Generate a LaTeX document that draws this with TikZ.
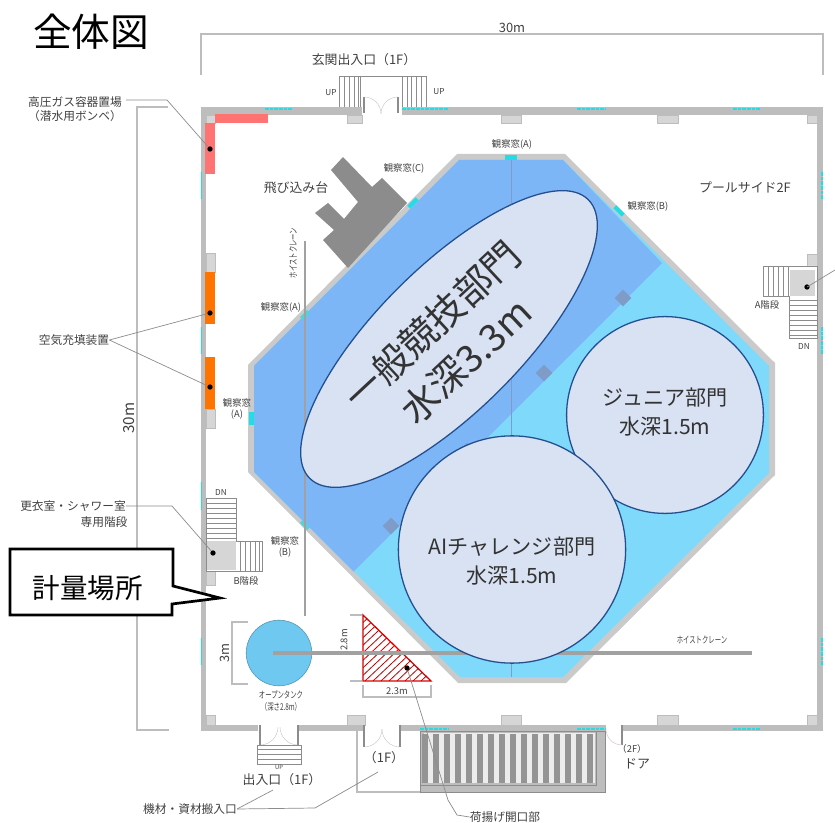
\documentclass[tikz,border=0pt]{standalone}
\usepackage{fontspec}
\newfontfamily\jpfont{Noto Sans CJK JP}
\newcommand{\narrowtext}[1]{\scalebox{0.68}[1]{#1}}
\definecolor{wallgray}{HTML}{BDBDBD}
\definecolor{blockgray}{HTML}{D6D6D6}
\definecolor{deepblue}{HTML}{7DB6F6}
\definecolor{shallowblue}{HTML}{7FD9FB}
\definecolor{tankblue}{HTML}{6FC8EF}
\definecolor{circlefill}{HTML}{D9E2F3}
\definecolor{circleedge}{HTML}{234F8E}
\definecolor{pillarblue}{HTML}{7F9CC8}
\definecolor{leadergray}{HTML}{8C8C8C}
\definecolor{labelgray}{HTML}{404040}
\definecolor{glasscyan}{HTML}{22DDE6}
\tikzset{
	wall/.style={fill=wallgray, draw=none},
	block/.style={fill=blockgray, draw=wallgray, line width=0.4pt},
	glass/.style={draw=glasscyan, line width=1.6pt, dash pattern=on 3pt off 1pt},
	leader/.style={draw=leadergray, line width=0.6pt},
	dim/.style={draw=wallgray, line width=0.9pt},
	crane/.style={draw=wallgray!85!black, line cap=butt},
	tread/.style={draw=leadergray, line width=0.3pt},
	doorarc/.style={draw=wallgray, line width=0.3pt},
	dot/.style={circle, fill=black, inner sep=0pt, minimum size=4.5pt},
	lab/.style={font=\jpfont\fontsize{10}{12}\selectfont, text=labelgray, inner sep=0pt, align=center},
	labbig/.style={font=\jpfont\fontsize{11}{13}\selectfont, text=labelgray, inner sep=0pt, align=center},
	labsmall/.style={font=\jpfont\fontsize{8}{10}\selectfont, text=labelgray, inner sep=0pt, align=center},
	labtiny/.style={font=\jpfont\fontsize{7}{8.5}\selectfont, text=labelgray, inner sep=0pt, align=center},
	zone/.style={font=\jpfont\fontsize{18}{25}\selectfont, text=black!80, inner sep=0pt, align=center},
}
\begin{document}
\begin{tikzpicture}[x=0.03cm, y=-0.03cm]
	\useasboundingbox (0,0) rectangle (835,823);
	% 見出し
	\node[font=\jpfont\fontsize{33}{36}\selectfont, inner sep=0pt] (title) at (91,32) {全体図};
	% 寸法線
	\draw[dim] (201,75) -- (201,34) -- (823,34) -- (823,75);
	\node[labbig] (widthText) at (512,28) {30m};
	\draw[dim] (168,107) -- (137,107) -- (137,730) -- (169,730);
	\node[font=\jpfont\fontsize{13}{15}\selectfont, text=labelgray, inner sep=0pt, rotate=90] (depthText) at (129,418) {30m};
	% 外壁
	\fill[wall] (201,107) rectangle (362,115);
	\fill[wall] (402,107) rectangle (823,115);
	\fill[wall] (201,107) rectangle (206,731);
	\fill[wall] (817,107) rectangle (823,731);
	\fill[wall] (201,725) rectangle (258,731);
	\fill[wall] (298,725) rectangle (365,731);
	\fill[wall] (400,725) rectangle (606,731);
	\fill[wall] (622,725) rectangle (823,731);
	% 柱
	\foreach \xa/\xb in {347/362, 501/521, 657/678, 807/817}
	\draw[block] (\xa,115) rectangle (\xb,123);
	\foreach \xa/\xb in {206/215, 347/365, 501/521, 657/678, 807/817}
	\draw[block] (\xa,715) rectangle (\xb,725);
	\draw[block] (206,115) rectangle (215,123);
	\draw[block] (206,253) rectangle (215,272);
	\draw[block] (206,409) rectangle (215,428);
	\draw[block] (206,571) rectangle (215,585);
	\draw[block] (807,254) rectangle (817,270);
	% 窓
	\foreach \xa/\xb in {265/293, 402/448, 577/606, 733/761}
	\draw[glass] (\xa,109) -- (\xb,109);
	\foreach \xa/\xb in {420/449, 577/606, 733/760}
	\draw[glass] (\xa,729) -- (\xb,729);
	\foreach \ya/\yb in {172/199, 327/354, 638/666}
	\draw[glass] (822,\ya) -- (822,\yb);
	\foreach \ya/\yb in {172/199, 327/354, 482/510, 638/665}
	\draw[glasscyan, line width=0.6pt] (201,\ya) -- (201,\yb);
	% 設備
	\fill[red!55!white] (215,114) rectangle (268,123);
	\fill[red!55!white] (205,123) rectangle (215,174);
	\fill[orange!90!red] (205,272) rectangle (215,324);
	\fill[orange!90!red] (205,357) rectangle (215,409);
	% プール
	\fill[wallgray!80!white] (457,154) -- (565,154) -- (775,363) -- (775,475) -- (566,683) -- (458,683) -- (248,472) -- (248,365) -- cycle;
	\fill[shallowblue] (459,160) -- (563,160) -- (769,366) -- (769,473) -- (563,677) -- (460,677) -- (254,472) -- (254,366) -- cycle;
	\fill[deepblue] (459,160) -- (563,160) -- (662,263) -- (353.5,571.5) -- (254,472) -- (254,366) -- cycle;
	\draw[pillarblue, line width=0.3pt] (511,160) -- (511,677);
	\foreach \x/\y in {623/298, 544/373, 467/451, 391/526}
	\fill[pillarblue, rotate around={45:(\x,\y)}] (\x-6,\y-6) rectangle (\x+6,\y+6);
	% 飛び込み台
	\fill[black!45] (343,157) -- (372,187) -- (382,178) -- (407,203) -- (348,268) -- (323,240) -- (334,230) -- (315,213) -- (328,203) -- (344,219) -- (358,202) -- (331,170) -- cycle;
	% 観察窓
	\fill[glasscyan] (505,155) rectangle (517,160);
	\fill[glasscyan] (249,412) rectangle (254,425);
	\fill[glasscyan, rotate around={45:(413,203)}] (407,201) rectangle (419,205);
	\fill[glasscyan, rotate around={-45:(619,211)}] (613,209) rectangle (625,213);
	\fill[glasscyan!70!wallgray, rotate around={45:(305,315)}] (300,313) rectangle (310,317);
	\fill[glasscyan!70!wallgray, rotate around={-45:(305,525)}] (300,523) rectangle (310,527);
	% オープンタンク
	\node[circle, fill=tankblue, draw=tankblue!75!black, line width=0.5pt, minimum size=56pt, inner sep=0pt] (tank) at (279,653) {};
	\draw[dim] (248,622) -- (232,622) -- (232,684) -- (248,684);
	\node[labbig, rotate=90] (tankSize) at (225,653) {3m};
	\node[font=\jpfont\fontsize{8}{9.5}\selectfont, text=labelgray, inner sep=0pt, align=center] (tankText) at (281,701) {\narrowtext{オープンタンク}\\\narrowtext{（深さ2.8m）}};
	% 開口部
	\begin{scope}
		\clip (363,615) -- (363,681) -- (431,681) -- cycle;
		\foreach \d in {0,8,...,136}
		\draw[red!80!black, line width=0.7pt] (363+\d-70,681) -- (363+\d,615);
	\end{scope}
	\draw[red!85!black, line width=1.1pt] (363,615) -- (363,681) -- (431,681) -- cycle;
	\draw[dim] (350,615) -- (362,615);
	\draw[dim] (350,681) -- (362,681);
	\draw[dim] (363,685) -- (363,697) -- (431,697) -- (431,685);
	\node[labsmall] (openWidth) at (397,691) {2.3m};
	\node[labsmall, rotate=90] (openDepth) at (344,640) {2.8m};
	% ホイストクレーン
	\draw[crane, line width=2.4pt] (305,241) -- (305,616);
	\draw[crane, line width=3.2pt] (273,653) -- (752,653);
	\node[font=\jpfont\fontsize{8}{9.5}\selectfont, text=labelgray, inner sep=0pt, rotate=90] (craneTextA) at (293,253) {\narrowtext{ホイストクレーン}};
	\node[font=\jpfont\fontsize{8}{9.5}\selectfont, text=labelgray, inner sep=0pt] (craneTextB) at (702,640) {\narrowtext{ホイストクレーン}};
	% 部門
	\draw[fill=circlefill, draw=circleedge, line width=1.1pt, rotate around={45:(449,339)}] (449,339) ellipse (197 and 72);
	\node[circle, fill=circlefill, draw=circleedge, line width=1.1pt, minimum size=168pt, inner sep=0pt] (juniorPool) at (665,415) {};
	\node[circle, fill=circlefill, draw=circleedge, line width=1.1pt, minimum size=194pt, inner sep=0pt] (aiPool) at (512,549.5) {};
	\node[font=\jpfont\fontsize{32}{42}\selectfont, text=black!80, inner sep=0pt, align=center, rotate=43] (deepText) at (449,343) {一般競技部門\\水深3.3m};
	\node[zone] (juniorText) at (665,412) {ジュニア部門\\水深1.5m};
	\node[zone] (aiText) at (512,561) {AIチャレンジ部門\\水深1.5m};
	% 玄関
	\draw[tread] (339,107) -- (339,76) -- (426,76) -- (426,107);
	\draw[tread] (360,76) -- (360,107);
	\draw[tread] (402,76) -- (402,107);
	\foreach \x in {344,349,354,358,407,411,416,421}
	\draw[tread] (\x,76) -- (\x,107);
	\draw[leadergray, line width=1pt] (364,97) -- (364,113);
	\draw[leadergray, line width=1pt] (398,97) -- (398,113);
	\draw[doorarc] (364,97) arc[start angle=270, end angle=360, radius=17];
	\draw[doorarc] (398,97) arc[start angle=270, end angle=180, radius=17];
	\node[labbig] (frontText) at (364,60) {玄関出入口（1F）};
	\node[labtiny] (upLeft) at (331,93) {UP};
	\node[labtiny] (upRight) at (439,92) {UP};
	% A階段
	\draw[fill=white, draw=leadergray, line width=0.5pt] (763,266) -- (817,266) -- (817,338) -- (789,338) -- (789,296) -- (763,296) -- cycle;
	\fill[blockgray] (790,270) rectangle (815,296);
	\foreach \x in {768,773,778,783,788}
	\draw[tread] (\x,266) -- (\x,296);
	\foreach \y in {300,305,310,315,320,325,330,335}
	\draw[tread] (789,\y) -- (817,\y);
	\node[labsmall] (stairA) at (767,305) {A階段};
	\node[labtiny] (dnA) at (804,346) {DN};
	\coordinate (stairADot) at (807,287);
	\coordinate (stairAEnd) at (835,270);
	\node[dot] at (stairADot) {};
	\draw[leader] (stairADot) -- (stairAEnd);
	% B階段
	\draw[fill=white, draw=leadergray, line width=0.5pt] (206,498) -- (236,498) -- (236,541) -- (262,541) -- (262,571) -- (206,571) -- cycle;
	\fill[blockgray] (207,541) rectangle (236,570);
	\foreach \y in {503,508,513,518,523,528,533,538}
	\draw[tread] (206,\y) -- (236,\y);
	\foreach \x in {240,245,250,255,259}
	\draw[tread] (\x,541) -- (\x,571);
	\node[labsmall] (stairB) at (246,581) {B階段};
	\node[labtiny] (dnB) at (221,492) {DN};
	% 出入口
	\draw[leadergray, line width=1pt] (260,725) -- (260,745);
	\draw[leadergray, line width=1pt] (298,725) -- (298,745);
	\draw[doorarc] (260,745) arc[start angle=90, end angle=0, radius=18];
	\draw[doorarc] (298,745) arc[start angle=90, end angle=180, radius=18];
	\draw[tread] (257,745) rectangle (301,764);
	\foreach \y in {749,754,759}
	\draw[tread] (257,\y) -- (301,\y);
	\node[font=\jpfont\fontsize{5}{6}\selectfont, text=labelgray, inner sep=0pt] (upBottom) at (279,767) {UP};
	\node[labbig] (doorText) at (282,780) {出入口（1F）};
	% 搬入口
	\draw[dim] (357,731) -- (357,792) -- (420,792);
	\draw[leadergray, line width=1pt] (364,725) -- (364,747);
	\draw[leadergray, line width=1pt] (400,725) -- (400,747);
	\draw[doorarc] (364,747) arc[start angle=90, end angle=0, radius=18];
	\draw[doorarc] (400,747) arc[start angle=90, end angle=180, radius=18];
	\node[labbig] (gateText) at (384,758) {（1F）};
	% 荷揚げ部
	\fill[wallgray] (420,731) rectangle (605,792);
	\fill[white!85!gray] (424,733) rectangle (595,783);
	\foreach \x in {422,433,...,590}
	\fill[black!42] (\x,734) rectangle (\x+6,783);
	\draw[leadergray, line width=0.5pt] (420,731) rectangle (605,792);
	\draw[leadergray, line width=0.5pt] (420,785) -- (596,785) -- (596,731);
	% ドア
	\draw[leadergray, line width=1pt] (622,725) -- (622,745);
	\draw[red!20!gray!40!white, line width=0.4pt] (622,745) arc[start angle=90, end angle=180, radius=16];
	\node[labsmall] (doorFloor) at (632,749) {（2F）};
	\node[labbig] (doorName) at (637,764) {ドア};
	% 引出し線
	\node[lab] (gasText) at (75,109) {高圧ガス容器置場\\（潜水用ボンベ）};
	\coordinate (gasBend) at (167,100);
	\coordinate (gasDot) at (210,149);
	\draw[leader] (126,100) -- (gasBend) -- (gasDot);
	\node[dot] at (gasDot) {};
	\node[lab] (airText) at (74,340) {空気充填装置};
	\coordinate (airDotA) at (210,313);
	\coordinate (airDotB) at (210,387);
	\draw[leader] (airText.east) -- (airDotA);
	\draw[leader] (airText.east) -- (airDotB);
	\node[dot] at (airDotA) {};
	\node[dot] at (airDotB) {};
	\node[lab] (showerText) at (73,506) {更衣室・シャワー室};
	\node[lab] (showerTextB) at (104,522) {専用階段};
	\coordinate (showerBend) at (172,506);
	\coordinate (showerDot) at (213,553);
	\draw[leader] (showerText.east) -- (showerBend) -- (showerDot);
	\node[dot] at (showerDot) {};
	\node[lab] (materialText) at (190,809) {機材・資材搬入口};
	\coordinate (materialEndA) at (273,790);
	\coordinate (materialBend) at (315,808);
	\coordinate (materialEndB) at (378,772);
	\draw[leader] (materialText.east) -- (materialEndA);
	\draw[leader] (materialText.east) -- (materialBend) -- (materialEndB);
	\node[lab] (liftText) at (505,817) {荷揚げ開口部};
	\coordinate (liftDot) at (407,668);
	\coordinate (liftBend) at (448,800);
	\draw[leader] (liftDot) -- (liftBend) -- (457,815) -- (liftText.west);
	\node[dot] at (liftDot) {};
	% 観察窓ラベル
	\node[labsmall] (winTop) at (512,144) {観察窓(A)};
	\node[labsmall] (winC) at (404,168) {観察窓(C)};
	\node[labsmall] (winBRight) at (648,206) {観察窓(B)};
	\node[labsmall] (winALeft) at (281,307) {観察窓(A)};
	\node[labsmall] (winASide) at (237,409) {観察窓\\(A)};
	\node[labsmall] (winBLeft) at (285,547) {観察窓\\(B)};
	\node[labbig] (platformText) at (296,188) {飛び込み台};
	\node[labbig] (sideText) at (745,187) {プールサイド2F};
	% 吹き出し
	\draw[fill=white, draw=black, line width=2.3pt] (10,549) -- (173,549) -- (173,586) -- (220,598) -- (172,604) -- (172,615) -- (10,615) -- cycle;
	\node[font=\jpfont\fontsize{23.5}{25}\selectfont, inner sep=0pt] (weighText) at (88,588) {計量場所};
\end{tikzpicture}
\end{document}
